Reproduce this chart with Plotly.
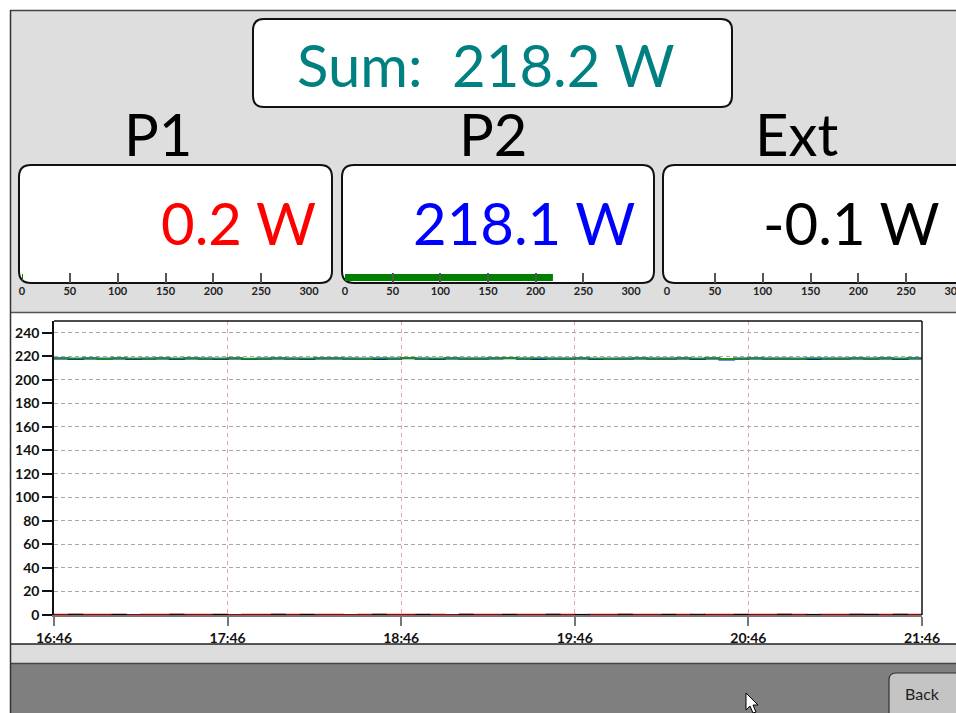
import plotly.graph_objects as go
import pandas as pd

W, H = 956, 713

# ---------------- data ----------------
sum_label = "Sum:\u00a0\u00a0218.2 W"
channel_names = ["P1", "P2", "Ext"]
channel_values = [0.2, 218.1, -0.1]
channel_texts = ["0.2 W", "218.1 W", "-0.1 W"]
channel_colors = ["#ff0000", "#0000ff", "#000000"]
scale_ticks = [0, 50, 100, 150, 200, 250, 300]

y_ticks = [0, 20, 40, 60, 80, 100, 120, 140, 160, 180, 200, 220, 240]
x_tick_labels = ["16:46", "17:46", "18:46", "19:46", "20:46", "21:46"]

sum_w = [218.3, 218.2, 218.4, 218.0, 218.3, 218.2, 218.1, 218.3, 218.2, 218.4,
         218.1, 218.2, 218.3, 217.9, 218.2, 218.3, 218.1, 218.2, 218.4, 218.3,
         218.2, 218.0, 218.3, 218.2, 218.5, 218.2, 218.1, 218.3, 218.2, 218.1,
         218.4, 218.6, 218.2, 218.3, 218.1, 218.2, 218.3, 218.2, 218.0, 218.2,
         218.3, 218.2, 218.1, 218.3, 218.2, 218.4, 217.6, 218.2, 218.3, 218.1,
         218.2, 218.0, 218.3, 218.2, 218.1, 218.3, 218.2, 218.4, 218.2, 218.3, 218.2]
p2_w = [218.1, 217.6, 218.2, 217.8, 218.1, 217.6, 218.0, 218.1, 217.7, 218.2,
        218.0, 217.6, 218.1, 217.6, 218.0, 218.1, 217.9, 217.6, 218.2, 218.1,
        218.0, 217.8, 217.7, 218.0, 218.3, 218.0, 217.6, 218.1, 218.0, 217.9,
        218.2, 218.4, 218.0, 217.7, 217.9, 218.0, 218.1, 217.6, 217.8, 218.0,
        218.1, 218.0, 217.9, 218.1, 217.6, 218.2, 217.3, 218.0, 218.1, 217.9,
        218.0, 217.8, 217.7, 218.0, 217.9, 218.1, 218.0, 218.2, 217.6, 218.1, 218.1]
p1_w = [0.2, 0.2, 0.3, 0.2, 0.2, 0.1, 0.2, 0.2, 0.3, 0.2,
        0.2, 0.2, 0.1, 0.2, 0.2, 0.3, 0.2, 0.2, 0.2, 0.2,
        0.1, 0.2, 0.2, 0.3, 0.2, 0.2, 0.2, 0.1, 0.2, 0.2,
        0.2, 0.3, 0.2, 0.2, 0.2, 0.2, 0.1, 0.2, 0.2, 0.3,
        0.2, 0.2, 0.2, 0.2, 0.1, 0.2, 0.2, 0.3, 0.2, 0.2,
        0.2, 0.2, 0.1, 0.2, 0.2, 0.2, 0.3, 0.2, 0.2, 0.2, 0.2]
ext_w = [-0.1, 0.6, -0.1, -0.1, 0.5, -0.1, -0.1, -0.1, 0.6, -0.1,
         -0.1, 0.5, -0.1, -0.1, -0.1, 0.6, -0.1, 0.5, -0.1, -0.1,
         -0.1, -0.1, 0.6, -0.1, -0.1, 0.5, -0.1, -0.1, 0.6, -0.1,
         -0.1, 0.5, -0.1, -0.1, 0.6, -0.1, 0.5, -0.1, -0.1, 0.6,
         -0.1, -0.1, 0.5, -0.1, 0.6, -0.1, -0.1, 0.5, -0.1, -0.1,
         0.6, -0.1, 0.5, -0.1, -0.1, 0.6, 0.5, -0.1, 0.6, -0.1, -0.1]

times = pd.date_range("2024-01-01 16:46", "2024-01-01 21:46", freq="5min")

# ---------------- helpers ----------------
def X(px):
    return px / W


def Y(py):
    return 1 - py / H


def rrect(x0, y0, x1, y1, r):
    p = lambda a, b: f"{X(a):.5f},{Y(b):.5f}"
    return (f"M {p(x0 + r, y0)} L {p(x1 - r, y0)} Q {p(x1, y0)} {p(x1, y0 + r)} "
            f"L {p(x1, y1 - r)} Q {p(x1, y1)} {p(x1 - r, y1)} L {p(x0 + r, y1)} "
            f"Q {p(x0, y1)} {p(x0, y1 - r)} L {p(x0, y0 + r)} Q {p(x0, y0)} {p(x0 + r, y0)} Z")


def rect(x0, y0, x1, y1, fill, line=None, lw=0, layer="below"):
    return dict(type="rect", xref="paper", yref="paper", x0=X(x0), x1=X(x1), y0=Y(y1), y1=Y(y0),
                fillcolor=fill, line=dict(color=line or fill, width=lw), layer=layer)


def hline(x0, x1, y, color, w=1, layer="below"):
    return dict(type="line", xref="paper", yref="paper", x0=X(x0), x1=X(x1), y0=Y(y), y1=Y(y),
                line=dict(color=color, width=w), layer=layer)


def vline(x, y0, y1, color, w=1, layer="below"):
    return dict(type="line", xref="paper", yref="paper", x0=X(x), x1=X(x), y0=Y(y0), y1=Y(y1),
                line=dict(color=color, width=w), layer=layer)


fig = go.Figure()

# ---------------- main time chart ----------------
fig.add_trace(go.Scatter(x=times, y=p2_w, mode="lines", line=dict(color="#0000ff", width=2, shape="hv"),
                         name="P2", xaxis="x", yaxis="y"))
fig.add_trace(go.Scatter(x=times, y=p1_w, mode="lines", line=dict(color="#ff0000", width=2, shape="hv"),
                         name="P1", xaxis="x", yaxis="y"))
fig.add_trace(go.Scatter(x=times, y=ext_w, mode="lines", line=dict(color="#000000", width=1, shape="hv"),
                         name="Ext", xaxis="x", yaxis="y"))
fig.add_trace(go.Scatter(x=times, y=sum_w, mode="lines", line=dict(color="#1a8f1a", width=2, shape="hv"),
                         name="Sum", xaxis="x", yaxis="y"))

tick_font = dict(family="Lato", size=14, color="#111111", weight="bold")

layout = dict(
    width=W, height=H, margin=dict(l=0, r=0, t=0, b=0, autoexpand=False),
    paper_bgcolor="#ffffff", plot_bgcolor="rgba(0,0,0,0)",
    showlegend=False,
    xaxis=dict(domain=[X(54), X(922)], type="date",
               range=[times[0], times[-1]],
               tickvals=[t for t in times if t.minute == 46],
               ticktext=x_tick_labels,
               showgrid=True, gridcolor="#f4a0a0", griddash="4px,4px", gridwidth=1,
               ticks="outside", ticklen=9, tickcolor="#777777", tickwidth=2,
               showline=True, linecolor="#777777", linewidth=2,
               zeroline=False, tickfont=tick_font, anchor="y", fixedrange=True,
               automargin=False),
    yaxis=dict(domain=[Y(615), Y(321)], range=[0, 250], tickvals=y_ticks,
               showgrid=True, gridcolor="#a8a8a8", griddash="4px,3px", gridwidth=1,
               ticks="outside", ticklen=10, tickcolor="#111111", tickwidth=1.5,
               showline=True, linecolor="#111111", linewidth=1.5, mirror=False,
               zeroline=False, tickfont=tick_font, anchor="x", fixedrange=True,
               automargin=False),
)

# ---------------- scale bars (one per channel) ----------------
scale_x = [(22, 309), (345, 631), (667, 954)]
for i, (name, val) in enumerate(zip(channel_names, channel_values)):
    k = i + 2
    fig.add_trace(go.Bar(x=[val], y=[5.5], width=7, orientation="h", base=0,
                         marker=dict(color="#008000", line=dict(width=0)),
                         xaxis=f"x{k}", yaxis=f"y{k}", name=name))
    x0, x1 = scale_x[i]
    layout[f"xaxis{k}"] = dict(domain=[X(x0), X(x1)], range=[0, 300], tickvals=scale_ticks,
                               ticks="inside", ticklen=10, tickcolor="#555555", tickwidth=1.5,
                               showgrid=False, zeroline=False, showline=False,
                               tickfont=dict(family="Lato", size=11, color="#222222", weight="bold"),
                               ticklabeloverflow="allow", anchor=f"y{k}", fixedrange=True,
                               layer="above traces", automargin=False)
    layout[f"yaxis{k}"] = dict(domain=[Y(283), Y(273)], range=[0, 10], visible=False,
                               anchor=f"x{k}", fixedrange=True, automargin=False)

fig.update_layout(**layout)

# ---------------- background panels & frames ----------------
shapes = []
shapes.append(rect(10, 10, 957, 312, "#dedede"))
shapes.append(hline(10, 957, 10.5, "#444444", 1.5))
shapes.append(hline(10, 957, 312.5, "#555555", 1.5))
shapes.append(rect(10, 644, 957, 663, "#dcdcdc"))
shapes.append(hline(10, 957, 644, "#222222", 1.5))
shapes.append(rect(10, 663, 957, 714, "#7f7f7f"))
shapes.append(hline(10, 957, 663.5, "#444444", 1.5))
shapes.append(vline(10.5, 10, 713, "#333333", 1.5))

# rounded boxes
shapes.append(dict(type="path", xref="paper", yref="paper", path=rrect(253, 19, 732, 107, 11),
                   fillcolor="#ffffff", line=dict(color="#111111", width=2), layer="below"))
boxes = [(19, 165, 332, 283), (342, 165, 654, 283), (663, 165, 970, 283)]
for b in boxes:
    shapes.append(dict(type="path", xref="paper", yref="paper", path=rrect(*b, 12),
                       fillcolor="#ffffff", line=dict(color="#111111", width=2), layer="below"))

# plot frame top / right
shapes.append(hline(54, 922, 321, "#111111", 1.5, layer="above"))
shapes.append(vline(922, 321, 615, "#111111", 1.5, layer="above"))

# Back button
shapes.append(dict(type="path", xref="paper", yref="paper", path=rrect(889, 673, 966, 720, 7),
                   fillcolor="#c4c4c4", line=dict(color="#333333", width=1.2), layer="above"))

# mouse pointer
cur = [(746, 693), (746, 710), (750, 706), (753, 713), (756, 712), (753, 705), (758, 705)]
cpath = "M " + " L ".join(f"{X(a):.5f},{Y(b):.5f}" for a, b in cur) + " Z"
shapes.append(dict(type="path", xref="paper", yref="paper", path=cpath,
                   fillcolor="#ffffff", line=dict(color="#000000", width=1), layer="above"))

fig.update_layout(shapes=shapes)

# ---------------- texts ----------------
big = "Lato"
ann = []
ann.append(dict(x=X(486), y=Y(64), xref="paper", yref="paper", text=sum_label, showarrow=False,
                xanchor="center", yanchor="middle", font=dict(family=big, size=58, color="#008080")))
label_cx = [158, 493, 796]
value_right = [318, 637, 942]
for i in range(3):
    ann.append(dict(x=X(label_cx[i]), y=Y(134), xref="paper", yref="paper", text=channel_names[i],
                    showarrow=False, xanchor="center", yanchor="middle",
                    font=dict(family=big, size=58, color="#000000")))
    ann.append(dict(x=X(value_right[i]), y=Y(223), xref="paper", yref="paper", text=channel_texts[i],
                    showarrow=False, xanchor="right", yanchor="middle",
                    font=dict(family=big, size=58, color=channel_colors[i])))
ann.append(dict(x=X(922), y=Y(693), xref="paper", yref="paper", text="Back", showarrow=False,
                xanchor="center", yanchor="middle", font=dict(family="Lato", size=16, color="#222222")))
fig.update_layout(annotations=ann)

fig.write_html("out.html", config={"displayModeBar": False},
               post_script="document.body.style.margin='0px';")
